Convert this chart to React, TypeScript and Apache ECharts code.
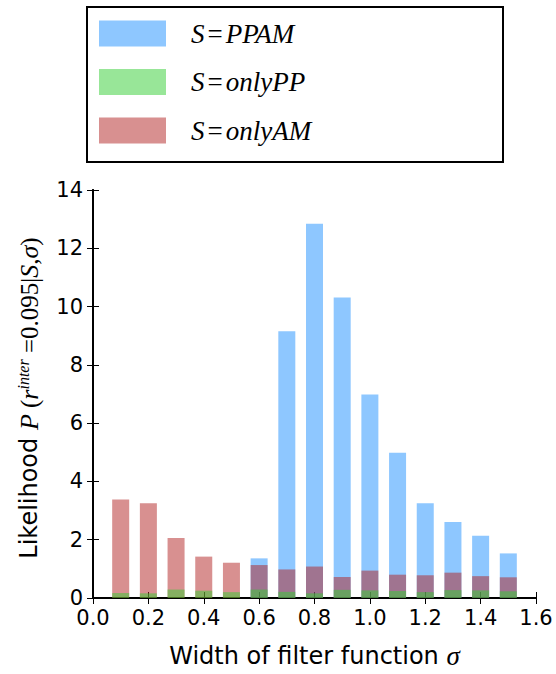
import React, { useEffect, useRef } from "react";
import * as echarts from "echarts";

const sigma = [0.1, 0.2, 0.3, 0.4, 0.5, 0.6, 0.7, 0.8, 0.9, 1.0, 1.1, 1.2, 1.3, 1.4, 1.5];
const ppam = [0, 0, 0, 0, 0, 1.36, 9.15, 12.84, 10.31, 6.98, 4.98, 3.25, 2.61, 2.14, 1.53];
const onlyAM = [3.38, 3.25, 2.06, 1.42, 1.21, 1.13, 0.98, 1.08, 0.72, 0.94, 0.8, 0.78, 0.87, 0.75, 0.71];
const onlyPP = [0.17, 0.16, 0.29, 0.25, 0.2, 0.29, 0.21, 0.16, 0.28, 0.26, 0.24, 0.2, 0.27, 0.26, 0.23];
const seriesNames = ["S=PPAM", "S=onlyPP", "S=onlyAM"];
const legendRich: Record<string, string> = {
  "S=PPAM": "{i|S}{n|=}{i|PPAM}",
  "S=onlyPP": "{i|S}{n|=}{i|onlyPP}",
  "S=onlyAM": "{i|S}{n|=}{i|onlyAM}",
};
const yTicks = { min: 0, max: 14, interval: 2 };
const xTicks = { min: 0, max: 1.6, interval: 0.2 };

const SANS = "DejaVu Sans";
const SERIF = "Liberation Serif";

export default function App() {
  const ref = useRef<HTMLDivElement>(null);
  useEffect(() => {
    if (!ref.current) return;
    const chart = echarts.init(ref.current, undefined, { renderer: "svg" });
    const pair = (vals: number[]) => sigma.map((s, i) => [s, vals[i]]);
    const axisLine = { show: true, lineStyle: { color: "#000", width: 2 } };
    const tick = { show: true, inside: true, length: 6, lineStyle: { color: "#000", width: 1 } };
    const mkBar = (name: string, vals: number[], color: string, z: number) => ({
      type: "bar",
      name,
      data: pair(vals),
      barWidth: 17,
      barGap: "-100%",
      itemStyle: { color },
      z,
    });
    chart.setOption({
      animation: false,
      backgroundColor: "#fff",
      graphic: [
        {
          type: "rect",
          shape: { x: 87, y: 7, width: 416, height: 155 },
          style: { fill: "none", stroke: "#000", lineWidth: 2 },
        },
      ],
      legend: {
        orient: "vertical",
        left: 99,
        top: 20,
        padding: 0,
        itemWidth: 67,
        itemHeight: 26,
        itemGap: 21.5,
        icon: "rect",
        data: seriesNames,
        formatter: (n: string) => legendRich[n],
        textStyle: {
          padding: [0, 0, 0, 20],
          rich: {
            i: { fontFamily: SERIF, fontStyle: "italic", fontSize: 27, lineHeight: 26, color: "#000" },
            n: { fontFamily: SERIF, fontSize: 27, lineHeight: 26, color: "#000", padding: [0, 3, 0, 3] },
          },
        },
      },
      grid: { left: 93, top: 190, right: 20, bottom: 71 },
      xAxis: [
        {
          type: "value",
          ...xTicks,
          position: "bottom",
          axisLine,
          axisTick: tick,
          splitLine: { show: false },
          axisLabel: {
            formatter: (v: number) => v.toFixed(1),
            color: "#000",
            fontFamily: SANS,
            fontSize: 21,
            margin: 9,
          },
          name: "{a|Width of filter function }{i|σ}",
          nameLocation: "middle",
          nameGap: 44,
          nameTextStyle: {
            rich: {
              a: { fontFamily: SANS, fontSize: 24, color: "#000" },
              i: { fontFamily: SERIF, fontStyle: "italic", fontSize: 27, color: "#000" },
            },
          },
        },
        {
          type: "value",
          ...xTicks,
          position: "top",
          axisLine,
          axisTick: tick,
          splitLine: { show: false },
          axisLabel: { show: false },
        },
      ],
      yAxis: [
        {
          type: "value",
          ...yTicks,
          position: "left",
          axisLine,
          axisTick: tick,
          splitLine: { show: false },
          axisLabel: { color: "#000", fontFamily: SANS, fontSize: 21, margin: 10, padding: [0, 0, 8, 0] },
          name: "{a|Likelihood }{i|P}{n| (}{i|r}{s|inter}{n| =0.095|}{i|S}{n|,}{i|σ}{n|)}",
          nameLocation: "middle",
          nameGap: 50,
          nameRotate: 90,
          nameTextStyle: {
            padding: [0, 8, 0, 0],
            rich: {
              a: { fontFamily: SANS, fontSize: 24, color: "#000" },
              i: { fontFamily: SERIF, fontStyle: "italic", fontSize: 26, color: "#000" },
              n: { fontFamily: SERIF, fontSize: 25, color: "#000" },
              s: { fontFamily: SERIF, fontStyle: "italic", fontSize: 16, color: "#000", padding: [0, 0, 12, 0] },
            },
          },
        },
        {
          type: "value",
          ...yTicks,
          position: "right",
          axisLine,
          axisTick: tick,
          splitLine: { show: false },
          axisLabel: { show: false },
        },
      ],
      series: [
        mkBar(seriesNames[0], ppam, "rgba(30,144,255,0.5)", 2),
        mkBar(seriesNames[2], onlyAM, "rgba(178,34,34,0.5)", 3),
        mkBar(seriesNames[1], onlyPP, "rgba(50,205,50,0.5)", 4),
      ],
    });
    return () => chart.dispose();
  }, []);
  return (
    <div
      ref={ref}
      style={{ position: "fixed", left: 0, top: 0, width: 556, height: 674, background: "#fff" }}
    />
  );
}
